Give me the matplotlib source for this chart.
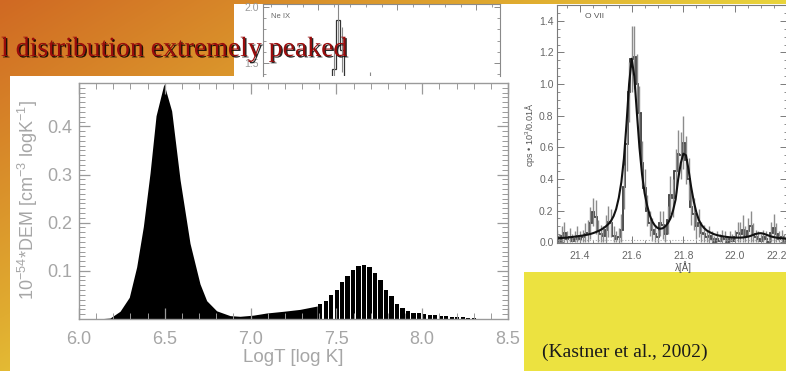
import numpy as np
import matplotlib
matplotlib.use("Agg")
import matplotlib.pyplot as plt
from matplotlib.patches import Rectangle
import matplotlib.patheffects as pe
from matplotlib.ticker import MultipleLocator, FixedLocator

plt.rcParams['font.family'] = ['Liberation Sans', 'DejaVu Sans']
plt.rcParams['mathtext.fontset'] = 'custom'
plt.rcParams['mathtext.rm'] = 'Liberation Sans'
plt.rcParams['mathtext.it'] = 'Liberation Sans:italic'
plt.rcParams['mathtext.bf'] = 'Liberation Sans:bold'

# ---------------- data ----------------
# DEM, cool component (solid filled part)
dem_logT = [6.000, 6.103, 6.181, 6.239, 6.293, 6.336, 6.375, 6.414, 6.449, 6.495,
            6.540, 6.589, 6.647, 6.705, 6.744, 6.802, 6.880, 6.938, 7.016, 7.094,
            7.191, 7.288, 7.388]
dem_val = [0.0, 0.0, 0.002, 0.016, 0.045, 0.108, 0.192, 0.303, 0.422, 0.488,
           0.432, 0.289, 0.157, 0.073, 0.038, 0.017, 0.007, 0.0056, 0.008, 0.0125,
           0.016, 0.020, 0.027]
# DEM, hot component (bars)
bar_logT = [7.405, 7.437, 7.469, 7.501, 7.533, 7.565, 7.597, 7.629, 7.661, 7.693,
            7.725, 7.757, 7.789, 7.821, 7.853, 7.885, 7.917, 7.949, 7.981, 8.013,
            8.045, 8.077, 8.109, 8.141, 8.173, 8.205, 8.237, 8.269, 8.301]
bar_val = [0.031, 0.0375, 0.050, 0.060, 0.076, 0.090, 0.101, 0.110, 0.112, 0.109,
           0.095, 0.080, 0.060, 0.047, 0.031, 0.022, 0.017, 0.013, 0.012, 0.010,
           0.009, 0.0076, 0.0062, 0.0056, 0.0049, 0.0042, 0.0035, 0.0028, 0.002]
dem_xticks = [6.0, 6.5, 7.0, 7.5, 8.0, 8.5]
dem_yticks = [0.1, 0.2, 0.3, 0.4]

# O VII spectrum, bins of 0.01 A starting at 21.31 A
ovii_start = 21.31
ovii_counts = [0.03, 0.01, 0.04, 0.06, 0.02, 0.03, 0.01, 0.02, 0.04, 0.02,
               0.03, 0.05, 0.06, 0.12, 0.19, 0.16, 0.07, 0.05, 0.04, 0.08,
               0.13, 0.12, 0.04, 0.02, 0.03, 0.08, 0.35, 0.62, 0.95, 1.16,
               1.17, 1.00, 0.82, 0.50, 0.34, 0.20, 0.12, 0.08, 0.05, 0.03,
               0.12, 0.11, 0.05, 0.14, 0.30, 0.28, 0.45, 0.56, 0.55, 0.63,
               0.52, 0.40, 0.22, 0.18, 0.10, 0.12, 0.06, 0.05, 0.03, 0.04,
               0.02, 0.00, 0.02, 0.01, 0.03, 0.02, 0.00, 0.02, 0.01, 0.03,
               0.06, 0.05, 0.08, 0.04, 0.07, 0.10, 0.05, 0.03, 0.02, 0.01,
               0.03, 0.02, 0.00, 0.06, 0.09, 0.05, 0.02, 0.03, 0.01, 0.02]
ovii_err = [0.05, 0.04, 0.06, 0.07, 0.05, 0.06, 0.04, 0.05, 0.06, 0.05,
            0.05, 0.07, 0.08, 0.10, 0.09, 0.11, 0.07, 0.06, 0.06, 0.09,
            0.10, 0.09, 0.06, 0.05, 0.06, 0.10, 0.14, 0.17, 0.19, 0.21,
            0.20, 0.19, 0.17, 0.14, 0.12, 0.10, 0.08, 0.07, 0.06, 0.05,
            0.08, 0.09, 0.06, 0.09, 0.12, 0.12, 0.14, 0.15, 0.15, 0.17,
            0.15, 0.13, 0.11, 0.10, 0.08, 0.09, 0.07, 0.06, 0.05, 0.06,
            0.05, 0.04, 0.05, 0.04, 0.05, 0.05, 0.04, 0.05, 0.04, 0.05,
            0.07, 0.08, 0.09, 0.06, 0.08, 0.10, 0.07, 0.05, 0.05, 0.04,
            0.05, 0.05, 0.04, 0.07, 0.09, 0.07, 0.05, 0.05, 0.04, 0.05]
ovii_fit = [0.025, 0.026, 0.027, 0.028, 0.029, 0.031, 0.033, 0.035, 0.037, 0.040,
            0.042, 0.045, 0.048, 0.052, 0.057, 0.063, 0.070, 0.078, 0.088, 0.100,
            0.115, 0.135, 0.165, 0.210, 0.280, 0.380, 0.530, 0.750, 1.000, 1.160,
            1.050, 0.820, 0.600, 0.430, 0.310, 0.230, 0.170, 0.130, 0.105, 0.090,
            0.085, 0.088, 0.100, 0.120, 0.150, 0.200, 0.270, 0.400, 0.500, 0.560,
            0.550, 0.460, 0.350, 0.260, 0.190, 0.140, 0.110, 0.090, 0.075, 0.065,
            0.057, 0.050, 0.045, 0.041, 0.038, 0.035, 0.033, 0.031, 0.030, 0.029,
            0.029, 0.029, 0.030, 0.032, 0.035, 0.040, 0.046, 0.052, 0.056, 0.057,
            0.054, 0.048, 0.042, 0.036, 0.032, 0.029, 0.027, 0.025, 0.024, 0.023]
ovii_bg_level = 0.015
ovii_xticks = [21.4, 21.6, 21.8, 22.0, 22.2]
ovii_yticks = [0.0, 0.2, 0.4, 0.6, 0.8, 1.0, 1.2, 1.4]

# Ne IX spectrum (only top part visible)
neix_wave = [13.40, 13.41, 13.42, 13.43, 13.44, 13.45, 13.46, 13.47, 13.48, 13.49,
             13.50, 13.51, 13.52, 13.53, 13.54, 13.55]
neix_val = [0.12, 0.15, 0.20, 0.45, 1.45, 1.88, 1.62, 0.90, 0.35, 0.20,
            0.18, 0.25, 0.40, 1.30, 0.70, 0.30]
neix_err = [0.10, 0.10, 0.10, 0.12, 0.18, 0.22, 0.20, 0.15, 0.10, 0.10,
            0.10, 0.10, 0.12, 0.12, 0.12, 0.10]
neix_yticks = [1.5, 2.0]

# ---------------- layout helpers ----------------
W, H = 786, 371
fig = plt.figure(figsize=(W / 100, H / 100), dpi=100)


def box(l, t, r, b):
    return [l / W, 1 - b / H, (r - l) / W, (b - t) / H]


def white(l, t, r, b, z):
    fig.add_artist(Rectangle((l / W, 1 - b / H), (r - l) / W, (b - t) / H,
                             transform=fig.transFigure, facecolor='white',
                             edgecolor='none', zorder=z))


# background gradient (slide)
bg = fig.add_axes([0, 0, 1, 1])
bg.set_zorder(-10)
bg.axis('off')
yy, xx = np.mgrid[0:H, 0:W]
u = np.clip(0.9 * xx / W + 0.7 * yy / H, 0, 1)
stops = [0.0, 0.6, 1.0]
cols = np.array([[208, 105, 35], [224, 172, 48], [236, 226, 64]]) / 255.0
img = np.dstack([np.interp(u, stops, cols[:, c]) for c in range(3)])
bg.imshow(img, extent=[0, W, H, 0], aspect='auto', interpolation='bilinear')
bg.set_xlim(0, W)
bg.set_ylim(H, 0)

# white panels
white(234, 4, 503, 76, -8)
white(503, 4, W, 272, -7)
white(10, 76, 524, H, -7)

# ---------------- Ne IX (partial) ----------------
gN = '#8a8a8a'
axn = fig.add_axes(box(263, 4, 500, 76))
axn.set_zorder(-6)
axn.set_facecolor('none')
neix_edges = np.append(np.array(neix_wave) - 0.005, neix_wave[-1] + 0.005)
axn.vlines(neix_wave, np.array(neix_val) - np.array(neix_err),
           np.array(neix_val) + np.array(neix_err), color='#888888', lw=0.8)
axn.stairs(neix_val, neix_edges, color='#333333', lw=0.9)
axn.set_xlim(13.26, 13.86)
axn.set_ylim(1.384, 2.027)
axn.spines['bottom'].set_visible(False)
for s in ['left', 'top', 'right']:
    axn.spines[s].set_color(gN)
    axn.spines[s].set_linewidth(0.8)
axn.yaxis.set_major_locator(FixedLocator(neix_yticks))
axn.yaxis.set_minor_locator(MultipleLocator(0.1))
axn.xaxis.set_major_locator(MultipleLocator(0.2))
axn.xaxis.set_minor_locator(MultipleLocator(0.04))
axn.tick_params(which='both', direction='in', top=True, right=True, bottom=False,
                labelbottom=False, color=gN, labelcolor='#999999', labelsize=7.5, pad=3)
axn.tick_params(which='major', length=4, width=0.7)
axn.tick_params(which='minor', length=2, width=0.6)
axn.set_yticklabels(['1.5', '2.0'])
fig.text(271 / W, 1 - 16 / H, 'Ne IX', fontsize=5.5, color='#666666',
         ha='left', va='center', zorder=3)

# ---------------- main DEM plot ----------------
g = '#9a9a9a'
ax = fig.add_axes(box(79, 83, 508, 319))
ax.set_zorder(-3)
ax.set_facecolor('none')
ax.fill_between(dem_logT, dem_val, 0, color='black', lw=0)
ax.bar(bar_logT, bar_val, width=0.024, color='black', lw=0)
ax.set_xlim(6.0, 8.5)
ax.set_ylim(0, 0.49)
for s in ax.spines.values():
    s.set_color(g)
    s.set_linewidth(1.0)
ax.xaxis.set_major_locator(FixedLocator(dem_xticks))
ax.xaxis.set_minor_locator(MultipleLocator(0.1))
ax.yaxis.set_major_locator(FixedLocator(dem_yticks))
ax.yaxis.set_minor_locator(MultipleLocator(0.01))
ax.tick_params(which='both', direction='in', top=True, right=True, color=g,
               labelcolor='#a6a6a6', labelsize=13)
ax.tick_params(which='major', length=8, width=0.9)
ax.tick_params(which='minor', length=4, width=0.7)
ax.tick_params(axis='x', pad=9)
ax.tick_params(axis='y', pad=5)
ax.set_xticklabels(['%.1f' % v for v in dem_xticks])
ax.set_yticklabels(['%.1f' % v for v in dem_yticks])
fig.text(293 / W, 1 - 357 / H, 'LogT [log K]', fontsize=13.5, color='#a6a6a6',
         ha='center', va='center')
fig.text(28 / W, 1 - 200 / H, r'10$^{-54}$*DEM [cm$^{-3}$ logK$^{-1}$]',
         fontsize=13, color='#a6a6a6', ha='center', va='center', rotation=90)

# ---------------- O VII spectrum ----------------
g2 = '#7a7a7a'
ax2 = fig.add_axes(box(557, 5, 787, 243))
ax2.set_zorder(-3)
ax2.set_facecolor('none')
wave = np.round(ovii_start + 0.01 * np.arange(len(ovii_counts)), 2)
edges = np.append(wave - 0.005, wave[-1] + 0.005)
cnt = np.array(ovii_counts)
err = np.array(ovii_err)
ax2.vlines(wave, np.clip(cnt - err, 0, None), cnt + err, color='#8c8c8c', lw=1.0)
ax2.axhline(ovii_bg_level, color='#aaaaaa', lw=0.8, ls=':')
ax2.stairs(cnt, edges, color='#3a3a3a', lw=1.3)
ax2.plot(wave, ovii_fit, color='#111111', lw=1.5)
ax2.set_xlim(21.311, 22.201)
ax2.set_ylim(-0.005, 1.5)
for s in ax2.spines.values():
    s.set_color(g2)
    s.set_linewidth(0.8)
ax2.xaxis.set_major_locator(FixedLocator(ovii_xticks))
ax2.xaxis.set_minor_locator(MultipleLocator(0.05))
ax2.yaxis.set_major_locator(FixedLocator(ovii_yticks))
ax2.yaxis.set_minor_locator(MultipleLocator(0.05))
ax2.tick_params(which='both', direction='in', top=True, right=True, color=g2,
                labelcolor='#666666', labelsize=7.5)
ax2.tick_params(which='major', length=5, width=0.7)
ax2.tick_params(which='minor', length=2.5, width=0.6)
ax2.tick_params(axis='x', pad=6)
ax2.tick_params(axis='y', pad=2.5)
ax2.set_xticklabels(['%.1f' % v for v in ovii_xticks])
ax2.set_yticklabels(['%.1f' % v for v in ovii_yticks])
ax2.get_xticklabels()[-1].set_horizontalalignment('right')
fig.text(585 / W, 1 - 17 / H, 'O VII', fontsize=6, color='#555555',
         ha='left', va='center')
fig.text(683 / W, 1 - 267 / H, 'λ[Å]', fontsize=7, color='#555555',
         ha='center', va='center')
fig.text(530 / W, 1 - 135 / H, 'cps • 10$^3$/0.01Å', fontsize=6.5, color='#555555',
         ha='center', va='center', rotation=90)

# ---------------- slide texts ----------------
fig.text(1 / W, 1 - 56 / H, 'l distribution extremely peaked',
         fontsize=20, family='Liberation Serif', color='#9a0c0c',
         ha='left', va='baseline', zorder=10,
         path_effects=[pe.withSimplePatchShadow(offset=(1.0, -1.0),
                                                shadow_rgbFace='black', alpha=0.85)])
fig.text(542 / W, 1 - 352 / H, '(Kastner et al., 2002)', fontsize=14,
         family='Liberation Serif', color='#1a1a1a', ha='left', va='center', zorder=10)

fig.savefig('out.png', dpi=100)
